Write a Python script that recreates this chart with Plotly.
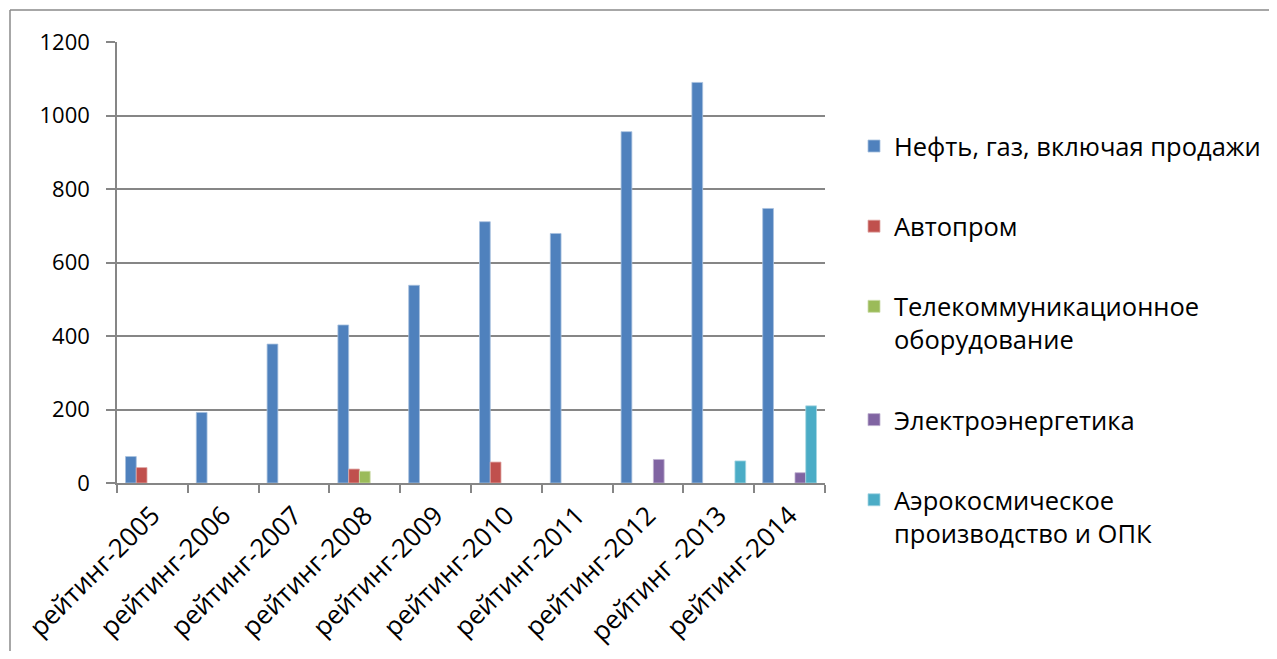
import plotly.graph_objects as go

categories = ["рейтинг-2005", "рейтинг-2006", "рейтинг-2007", "рейтинг-2008", "рейтинг-2009",
              "рейтинг-2010", "рейтинг-2011", "рейтинг-2012", "рейтинг -2013", "рейтинг-2014"]

oil_gas = [72, 192, 378, 430, 538, 711, 679, 956, 1090, 747]
auto = [42, None, None, 38, None, 57, None, None, None, None]
telecom = [None, None, None, 32, None, None, None, None, None, None]
power = [None, None, None, None, None, None, None, 64, None, 28]
aerospace = [None, None, None, None, None, None, None, None, 60, 210]

series_names = ["Нефть, газ, включая продажи", "Автопром",
                "Телекоммуникационное<br>оборудование", "Электроэнергетика",
                "Аэрокосмическое<br>производство и ОПК"]
series_values = [oil_gas, auto, telecom, power, aerospace]
colors = ["#4F81BD", "#C0504D", "#9BBB59", "#8064A2", "#4BACC6"]
edge_colors = ["#A7C0DE", "#E0A8A6", "#CDDDAC", "#BFB1D0", "#A5D5E2"]

FONT = "Open Sans"

fig = go.Figure()
for i, (name, vals) in enumerate(zip(series_names, series_values)):
    fig.add_trace(go.Bar(
        x=categories, y=vals, name=name, legendgroup=f"g{i}",
        marker=dict(color=colors[i], line=dict(color=edge_colors[i], width=0.8)),
    ))

# the page body has an 8px margin: work in figure pixels = page pixels - 8
OFF = 8
W, H = 1277 - 2 * OFF, 659 - 2 * OFF
L, T = 117 - OFF, 42 - OFF
R = W - (825 - OFF)
B = H - (483.3 - OFF)
pw, ph = W - L - R, H - T - B


def px_x(p):
    return (p - OFF - L) / pw


def px_y(p):
    return (H - B - (p - OFF)) / ph


fig.update_layout(
    width=W, height=H,
    margin=dict(l=L, r=R, t=T, b=B, autoexpand=False),
    paper_bgcolor="white", plot_bgcolor="white",
    barmode="group", bargap=0.24, bargroupgap=0,
    font=dict(family=FONT, size=22, color="black"),
    showlegend=True,
    legend=dict(
        x=px_x(854), y=px_y(123), xanchor="left", yanchor="top",
        traceorder="grouped", tracegroupgap=44, valign="top",
        font=dict(family=FONT, size=25.5, color="black"),
        bgcolor="rgba(0,0,0,0)", maxheight=620,
    ),
    xaxis=dict(
        showline=True, linecolor="#868686", linewidth=1.5,
        ticks="outside", tickson="boundaries", ticklen=8, tickcolor="#868686", tickwidth=1.5,
        tickangle=-45, tickfont=dict(family=FONT, size=26, color="black"),
        ticklabelstandoff=5, showgrid=False, automargin=False,
    ),
    yaxis=dict(
        range=[0, 1200], tickvals=[0, 200, 400, 600, 800, 1000, 1200],
        showline=True, linecolor="#868686", linewidth=1.5,
        ticks="outside", ticklen=9, tickcolor="#868686", tickwidth=1.5,
        showgrid=True, gridcolor="#868686", gridwidth=1.5,
        tickfont=dict(family=FONT, size=22, color="black"),
        ticklabelstandoff=12, zeroline=False, automargin=False,
    ),
)

# chart-area frame (top and left edges visible in the reference)
fig.add_shape(type="line", xref="paper", yref="paper",
              x0=px_x(10), x1=px_x(1300), y0=px_y(10), y1=px_y(10),
              line=dict(color="#8A8A8A", width=1.5))
fig.add_shape(type="line", xref="paper", yref="paper",
              x0=px_x(10), x1=px_x(10), y0=px_y(10), y1=px_y(700),
              line=dict(color="#8A8A8A", width=1.5))

fig.write_html("out.html")
